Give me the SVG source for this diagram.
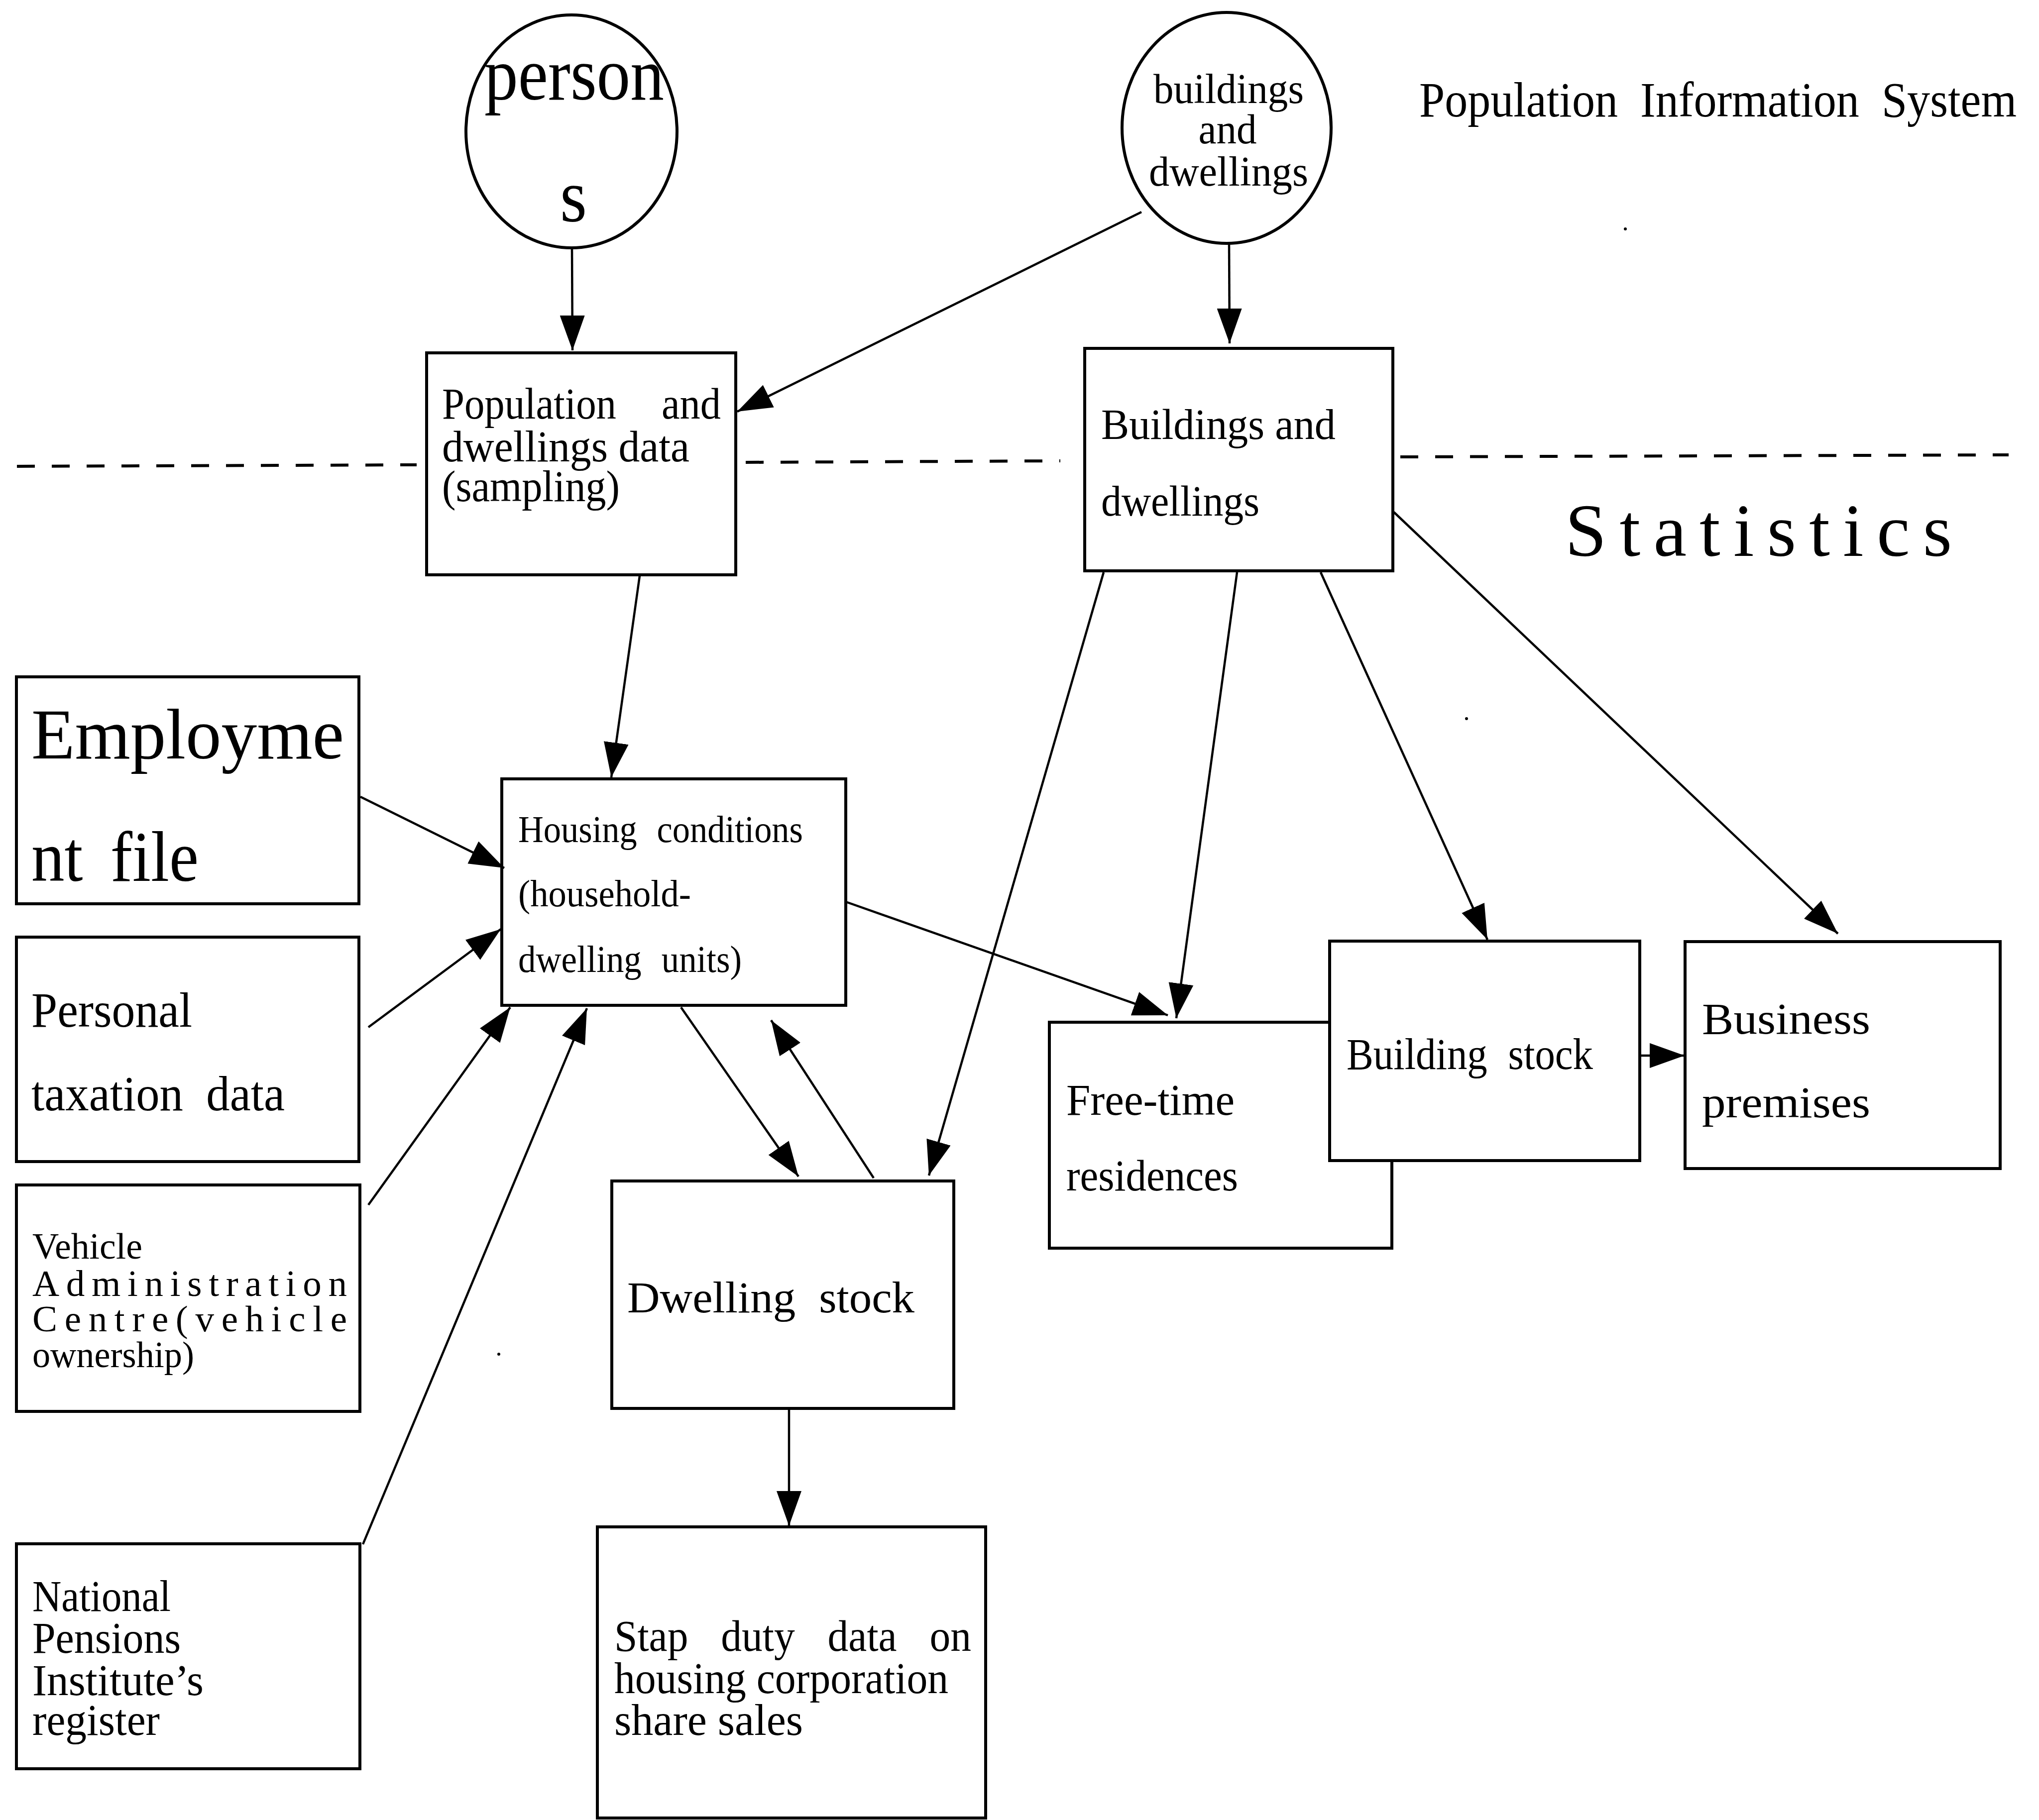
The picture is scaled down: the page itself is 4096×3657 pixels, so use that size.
<svg xmlns="http://www.w3.org/2000/svg" width="4096" height="3657" viewBox="0 0 4096 3657">
  <style>
    .box { fill: #fff; stroke: #000; stroke-width: 6; }
    .oval { fill: #fff; stroke: #000; stroke-width: 6; }
    .t { font-family: "Liberation Serif", "Times New Roman", serif; fill: #000; }
    .wide { word-spacing: 24px; }
    .edge { stroke: #000; stroke-width: 4.5; fill: none; marker-end: url(#head); }
    .divider { stroke: #000; stroke-width: 6; stroke-dasharray: 36 34; fill: none; }
  </style>
  <defs>
    <marker id="head" markerUnits="userSpaceOnUse" viewBox="0 0 70 50" markerWidth="70" markerHeight="50" refX="70" refY="25" orient="auto">
      <path d="M0,0 L70,25 L0,50 Z" fill="#000"/>
    </marker>
  </defs>
  <rect width="4096" height="3657" fill="#fff"/>

  <!-- boundary between register side and statistics side -->
  <g id="divider">
    <path class="divider" d="M34,937 L837,934"/>
    <path class="divider" d="M1498,929 L2130,926"/>
    <path class="divider" d="M2813,918 L4035,914"/>
  </g>

  <g id="title">
    <text class="t wide" x="2851" y="234" font-size="100" textLength="1200" lengthAdjust="spacingAndGlyphs">Population Information System</text>
  </g>
  <g id="statistics-label">
    <text class="t" x="3144" y="1117" font-size="150" textLength="777" lengthAdjust="spacing">Statistics</text>
  </g>

  <g id="persons">
    <ellipse class="oval" cx="1148" cy="264" rx="212" ry="234"/>
    <text class="t" x="973" y="200" font-size="150" textLength="361" lengthAdjust="spacingAndGlyphs">person</text>
    <text class="t" x="1125" y="445" font-size="150" textLength="54" lengthAdjust="spacingAndGlyphs">s</text>
  </g>

  <g id="buildings-dwellings-source">
    <ellipse class="oval" cx="2464" cy="257" rx="210" ry="232"/>
    <text class="t" x="2468" y="207" font-size="84" text-anchor="middle" textLength="302" lengthAdjust="spacingAndGlyphs">buildings</text>
    <text class="t" x="2466" y="288" font-size="84" text-anchor="middle" textLength="117" lengthAdjust="spacingAndGlyphs">and</text>
    <text class="t" x="2468" y="373" font-size="84" text-anchor="middle" textLength="320" lengthAdjust="spacingAndGlyphs">dwellings</text>
  </g>

  <g id="population-dwellings-data">
    <rect class="box" x="857" y="709" width="621" height="446"/>
    <text class="t" x="888" y="841" font-size="88" textLength="350" lengthAdjust="spacingAndGlyphs">Population</text>
    <text class="t" x="1329" y="841" font-size="88" textLength="119" lengthAdjust="spacingAndGlyphs">and</text>
    <text class="t" x="888" y="927" font-size="88" textLength="497" lengthAdjust="spacingAndGlyphs">dwellings data</text>
    <text class="t" x="888" y="1007" font-size="88" textLength="357" lengthAdjust="spacingAndGlyphs">(sampling)</text>
  </g>

  <g id="buildings-dwellings">
    <rect class="box" x="2179" y="700" width="619" height="447"/>
    <text class="t" x="2212" y="882" font-size="86" textLength="471" lengthAdjust="spacingAndGlyphs">Buildings and</text>
    <text class="t" x="2212" y="1036" font-size="86" textLength="318" lengthAdjust="spacingAndGlyphs">dwellings</text>
  </g>

  <g id="employment-file">
    <rect class="box" x="33" y="1360" width="688" height="456"/>
    <text class="t" x="63" y="1524" font-size="145" textLength="628" lengthAdjust="spacingAndGlyphs">Employme</text>
    <text class="t wide" x="63" y="1770" font-size="145" textLength="336" lengthAdjust="spacingAndGlyphs">nt file</text>
  </g>

  <g id="housing-conditions">
    <rect class="box" x="1008" y="1565" width="691" height="455"/>
    <text class="t wide" x="1041" y="1692" font-size="76" textLength="572" lengthAdjust="spacingAndGlyphs">Housing conditions</text>
    <text class="t" x="1041" y="1821" font-size="76" textLength="347" lengthAdjust="spacingAndGlyphs">(household-</text>
    <text class="t wide" x="1041" y="1953" font-size="76" textLength="449" lengthAdjust="spacingAndGlyphs">dwelling units)</text>
  </g>

  <g id="personal-taxation">
    <rect class="box" x="33" y="1883" width="688" height="451"/>
    <text class="t" x="63" y="2063" font-size="100" textLength="323" lengthAdjust="spacingAndGlyphs">Personal</text>
    <text class="t wide" x="63" y="2231" font-size="100" textLength="509" lengthAdjust="spacingAndGlyphs">taxation data</text>
  </g>

  <g id="vehicle-administration">
    <rect class="box" x="33" y="2381" width="690" height="455"/>
    <text class="t" x="65" y="2529" font-size="75" textLength="221" lengthAdjust="spacingAndGlyphs">Vehicle</text>
    <text class="t" x="65" y="2604" font-size="75" textLength="632" lengthAdjust="spacing">Administration</text>
    <text class="t" x="65" y="2675" font-size="75" textLength="632" lengthAdjust="spacing">Centre(vehicle</text>
    <text class="t" x="65" y="2747" font-size="75" textLength="325" lengthAdjust="spacingAndGlyphs">ownership)</text>
  </g>

  <g id="national-pensions">
    <rect class="box" x="33" y="3102" width="690" height="452"/>
    <text class="t" x="65" y="3237" font-size="89" textLength="278" lengthAdjust="spacingAndGlyphs">National</text>
    <text class="t" x="65" y="3321" font-size="89" textLength="298" lengthAdjust="spacingAndGlyphs">Pensions</text>
    <text class="t" x="65" y="3406" font-size="89" textLength="344" lengthAdjust="spacingAndGlyphs">Institute’s</text>
    <text class="t" x="65" y="3486" font-size="89" textLength="256" lengthAdjust="spacingAndGlyphs">register</text>
  </g>

  <g id="dwelling-stock">
    <rect class="box" x="1229" y="2373" width="687" height="457"/>
    <text class="t wide" x="1260" y="2637" font-size="89" textLength="577" lengthAdjust="spacingAndGlyphs">Dwelling stock</text>
  </g>

  <g id="stamp-duty-data">
    <rect class="box" x="1200" y="3068" width="780" height="585"/>
    <text class="t" x="1234" y="3317" font-size="89" word-spacing="48" textLength="717" lengthAdjust="spacingAndGlyphs">Stap duty data on</text>
    <text class="t" x="1234" y="3402" font-size="89" textLength="671" lengthAdjust="spacingAndGlyphs">housing corporation</text>
    <text class="t" x="1234" y="3486" font-size="89" textLength="379" lengthAdjust="spacingAndGlyphs">share sales</text>
  </g>

  <g id="free-time-residences">
    <rect class="box" x="2108" y="2054" width="688" height="454"/>
    <text class="t" x="2142" y="2240" font-size="89" textLength="338" lengthAdjust="spacingAndGlyphs">Free-time</text>
    <text class="t" x="2142" y="2392" font-size="89" textLength="345" lengthAdjust="spacingAndGlyphs">residences</text>
  </g>

  <g id="building-stock">
    <rect class="box" x="2671" y="1891" width="623" height="441"/>
    <text class="t wide" x="2705" y="2148" font-size="89" textLength="495" lengthAdjust="spacingAndGlyphs">Building stock</text>
  </g>

  <g id="business-premises">
    <rect class="box" x="3385" y="1892" width="633" height="456"/>
    <text class="t" x="3419" y="2077" font-size="89" textLength="338" lengthAdjust="spacingAndGlyphs">Business</text>
    <text class="t" x="3419" y="2245" font-size="89" textLength="338" lengthAdjust="spacingAndGlyphs">premises</text>
  </g>

  <g id="connectors">
    <line class="edge" x1="1149" y1="498" x2="1150" y2="704"/>
    <line class="edge" x1="2293" y1="426" x2="1481" y2="827"/>
    <line class="edge" x1="2469" y1="489" x2="2470" y2="690"/>
    <line class="edge" x1="1285" y1="1157" x2="1228" y2="1562"/>
    <line class="edge" x1="724" y1="1601" x2="1013" y2="1744"/>
    <line class="edge" x1="740" y1="2064" x2="1006" y2="1867"/>
    <line class="edge" x1="740" y1="2421" x2="1025" y2="2024"/>
    <line class="edge" x1="729" y1="3103" x2="1179" y2="2026"/>
    <line class="edge" x1="1368" y1="2024" x2="1604" y2="2364"/>
    <line class="edge" x1="1755" y1="2367" x2="1549" y2="2050"/>
    <line class="edge" x1="2217" y1="1150" x2="1866" y2="2362"/>
    <line class="edge" x1="2485" y1="1150" x2="2363" y2="2046"/>
    <line class="edge" x1="2653" y1="1150" x2="2988" y2="1888"/>
    <line class="edge" x1="2800" y1="1029" x2="3692" y2="1876"/>
    <line class="edge" x1="1699" y1="1812" x2="2346" y2="2040"/>
    <line class="edge" x1="3296" y1="2121" x2="3384" y2="2121"/>
    <line class="edge" x1="1585" y1="2832" x2="1585" y2="3066"/>
  </g>

  <!-- stray print specks -->
  <g id="specks" fill="#000">
    <circle cx="3265" cy="460" r="3"/>
    <circle cx="2946" cy="1444" r="3"/>
    <circle cx="1002" cy="2721" r="3"/>
  </g>
</svg>
